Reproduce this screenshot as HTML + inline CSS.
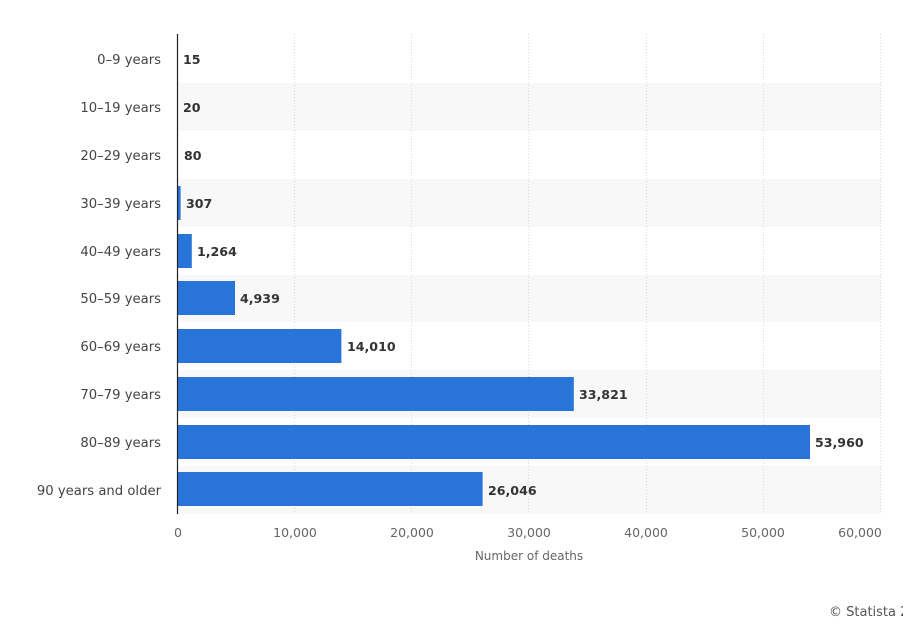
<!DOCTYPE html>
<html><head><style>
body{margin:0;background:#fff;}
svg text{font-family:"DejaVu Sans","Liberation Sans",sans-serif;}
</style></head><body>
<svg width="903" height="631" xmlns="http://www.w3.org/2000/svg">
<g fill="#f8f8f8">
<rect x="177" y="83" width="704" height="48"/>
<rect x="177" y="179" width="704" height="48"/>
<rect x="177" y="275" width="704" height="47"/>
<rect x="177" y="370" width="704" height="48"/>
<rect x="177" y="466" width="704" height="48"/>
</g>
<g stroke="#d8d8d8" stroke-dasharray="1,2" stroke-width="1">
<line x1="294.5" y1="34" x2="294.5" y2="514"/>
<line x1="411.5" y1="34" x2="411.5" y2="514"/>
<line x1="528.5" y1="34" x2="528.5" y2="514"/>
<line x1="646.5" y1="34" x2="646.5" y2="514"/>
<line x1="763.5" y1="34" x2="763.5" y2="514"/>
<line x1="880.5" y1="34" x2="880.5" y2="514"/>
</g>
<g fill="#2874d9">
<rect x="177" y="42" width="0.5" height="34"/>
<rect x="177" y="90" width="0.5" height="34"/>
<rect x="177" y="138" width="1" height="34"/>
<rect x="177" y="186" width="3.6" height="34"/>
<rect x="177" y="234" width="14.8" height="34"/>
<rect x="177" y="281" width="58" height="34"/>
<rect x="177" y="329" width="164.4" height="34"/>
<rect x="177" y="377" width="396.8" height="34"/>
<rect x="177" y="425" width="633" height="34"/>
<rect x="177" y="472" width="305.6" height="34"/>
</g>
<line x1="177.5" y1="34" x2="177.5" y2="514" stroke="#222" stroke-width="1.2"/>
<g font-size="13.2" fill="#444" text-anchor="end">
<text x="161" y="64">0–9 years</text>
<text x="161" y="112">10–19 years</text>
<text x="161" y="160">20–29 years</text>
<text x="161" y="208">30–39 years</text>
<text x="161" y="256">40–49 years</text>
<text x="161" y="303">50–59 years</text>
<text x="161" y="351">60–69 years</text>
<text x="161" y="399">70–79 years</text>
<text x="161" y="447">80–89 years</text>
<text x="161" y="495">90 years and older</text>
</g>
<g font-size="12.6" fill="#333" font-weight="bold">
<text x="183" y="64">15</text>
<text x="183" y="112">20</text>
<text x="184" y="160">80</text>
<text x="186" y="208">307</text>
<text x="197" y="256">1,264</text>
<text x="240" y="303">4,939</text>
<text x="347" y="351">14,010</text>
<text x="579" y="399">33,821</text>
<text x="815" y="447">53,960</text>
<text x="488" y="495">26,046</text>
</g>
<g font-size="12.5" fill="#666" text-anchor="middle">
<text x="178" y="537">0</text>
<text x="295" y="537">10,000</text>
<text x="412" y="537">20,000</text>
<text x="529" y="537">30,000</text>
<text x="646" y="537">40,000</text>
<text x="763" y="537">50,000</text>
<text x="860" y="537">60,000</text>
<text x="529" y="560" font-size="12">Number of deaths</text>
</g>
<text x="829" y="616" font-size="13" fill="#555">© Statista 2</text>
</svg>
</body></html>
